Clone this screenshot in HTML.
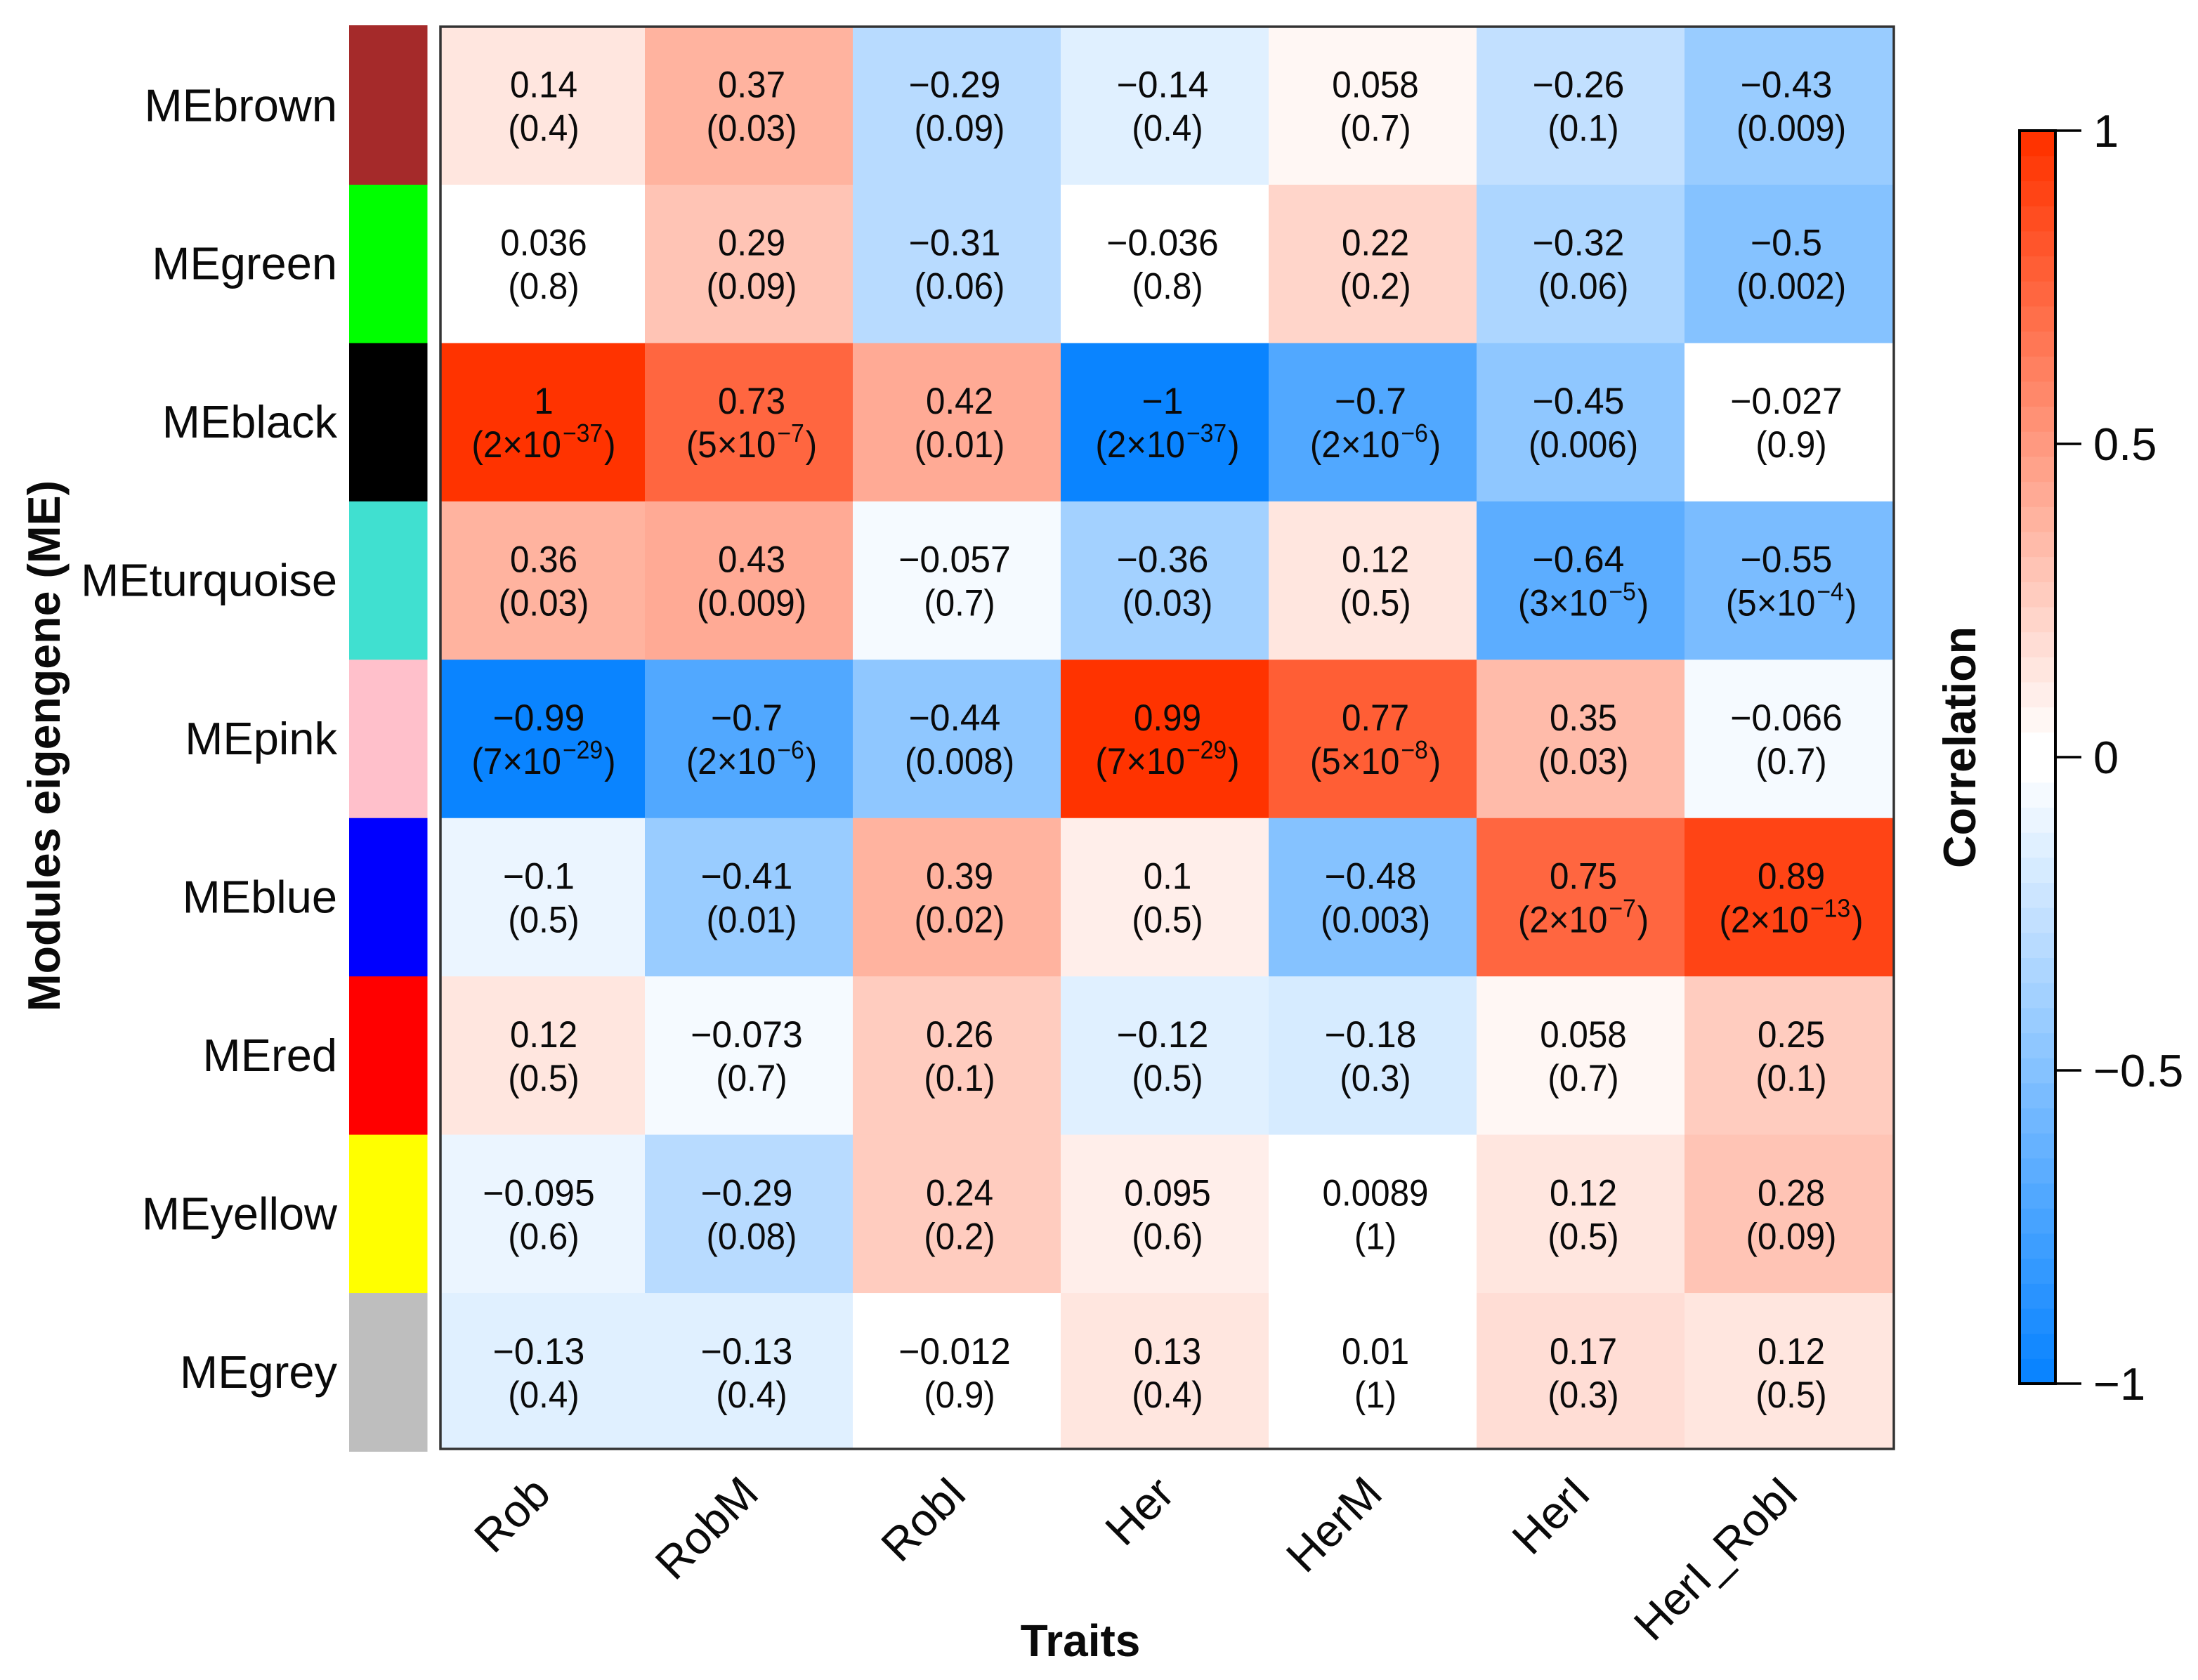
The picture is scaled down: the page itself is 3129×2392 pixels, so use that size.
<!DOCTYPE html>
<html lang="en">
<head>
<meta charset="utf-8">
<title>Module-trait correlation heatmap</title>
<style>
html,body{margin:0;padding:0;background:#fff;}
svg{display:block;}
text{font-family:"Liberation Sans",Arial,sans-serif;fill:#0a0a0a;}
</style>
</head>
<body>
<svg id="chart" xmlns="http://www.w3.org/2000/svg" width="3129" height="2392" viewBox="0 0 3129 2392">
  <rect x="0" y="0" width="3129" height="2392" fill="#fff"/>
  <defs><clipPath id="plot-clip"><rect x="627" y="38" width="2069" height="2025"/></clipPath></defs>
  <g id="module-bar"></g>
  <g id="cells" clip-path="url(#plot-clip)"></g>
  <g id="cell-text"></g>
  <rect x="627" y="38" width="2069" height="2025" fill="none" stroke="#333" stroke-width="3.5"/>
  <g id="row-labels"></g>
  <g id="col-labels"></g>
  <g id="legend"></g>
  <text transform="translate(85 1062) rotate(-90)" text-anchor="middle" font-size="64.5" font-weight="700">Modules eigengene (ME)</text>
  <text x="1538" y="2358" text-anchor="middle" font-size="64" font-weight="700">Traits</text>
  <text transform="translate(2812 1064) rotate(-90)" text-anchor="middle" font-size="64.5" font-weight="700">Correlation</text>
</svg>
<script>
const modules = ["MEbrown","MEgreen","MEblack","MEturquoise","MEpink","MEblue","MEred","MEyellow","MEgrey"];
const moduleColors = ["#A52A2A","#00FF00","#000000","#40E0D0","#FFC0CB","#0000FF","#FF0000","#FFFF00","#BEBEBE"];
const traits = ["Rob","RobM","RobI","Her","HerM","HerI","HerI_RobI"];
const correlations = [
  [0.14,0.37,-0.29,-0.14,0.058,-0.26,-0.43],
  [0.036,0.29,-0.31,-0.036,0.22,-0.32,-0.5],
  [1,0.73,0.42,-1,-0.7,-0.45,-0.027],
  [0.36,0.43,-0.057,-0.36,0.12,-0.64,-0.55],
  [-0.99,-0.7,-0.44,0.99,0.77,0.35,-0.066],
  [-0.1,-0.41,0.39,0.1,-0.48,0.75,0.89],
  [0.12,-0.073,0.26,-0.12,-0.18,0.058,0.25],
  [-0.095,-0.29,0.24,0.095,0.0089,0.12,0.28],
  [-0.13,-0.13,-0.012,0.13,0.01,0.17,0.12]
];
const pValues = [
  ["0.4","0.03","0.09","0.4","0.7","0.1","0.009"],
  ["0.8","0.09","0.06","0.8","0.2","0.06","0.002"],
  ["2×10|−37","5×10|−7","0.01","2×10|−37","2×10|−6","0.006","0.9"],
  ["0.03","0.009","0.7","0.03","0.5","3×10|−5","5×10|−4"],
  ["7×10|−29","2×10|−6","0.008","7×10|−29","5×10|−8","0.03","0.7"],
  ["0.5","0.01","0.02","0.5","0.003","2×10|−7","2×10|−13"],
  ["0.5","0.7","0.1","0.5","0.3","0.7","0.1"],
  ["0.6","0.08","0.2","0.6","1","0.5","0.09"],
  ["0.4","0.4","0.9","0.4","1","0.3","0.5"]
];
const legendTicks = [1,0.5,0,-0.5,-1];
const legendTickLabels = ["1","0.5","0","−0.5","−1"];

const NS = "http://www.w3.org/2000/svg";
const BINS = 50;
const xScale = i => 622 + 296 * i;
const yScale = i => 37.6 + 225.43 * i;
const legendY = v => 1078 - 892 * v;
const labelX = i => 626 + 296 * (i + 0.5);

function colorFor(v){
  const half = BINS / 2;
  const bin = Math.min(half - 1, Math.floor(Math.abs(v) * half + 1e-9));
  const t = bin / (half - 1);
  const hot = [255,51,0], cold = [10,132,255];
  const end = v >= 0 ? hot : cold;
  const c = end.map(e => Math.round(255 + (e - 255) * t));
  return "rgb(" + c.join(",") + ")";
}
function make(tag, attrs, parent){
  const el = document.createElementNS(NS, tag);
  for (const k in attrs) el.setAttribute(k, attrs[k]);
  parent.appendChild(el);
  return el;
}
const gBar = document.getElementById("module-bar");
const gCells = document.getElementById("cells");
const gText = document.getElementById("cell-text");
const gRows = document.getElementById("row-labels");
const gCols = document.getElementById("col-labels");
const gLegend = document.getElementById("legend");

modules.forEach((m, r) => {
  const barTop = r === 0 ? yScale(0) - 1.6 : yScale(r);
  const sw = make("rect", {x:497, y:barTop, width:111.5, height:yScale(r+1)-barTop+0.5, fill:moduleColors[r]}, gBar);
  
  
  const lab = make("text", {x:480, y:yScale(r+0.5)+22, "text-anchor":"end", "font-size":65}, gRows);
  
  
  lab.textContent = m;
  traits.forEach((t, c) => {
    const v = correlations[r][c];
    const cell = make("rect", {x:xScale(c), y:yScale(r), width:296.5, height:226, fill:colorFor(v)}, gCells);
    
    
    const cx = labelX(c), cy = yScale(r + 0.5);
    const shift = v < 0 ? -7 : 0;
    const sx = v < 0 ? 0.985 : 0.94;
    const top = make("text", {transform:"translate(" + (cx + shift) + " " + (cy - 12) + ") scale(" + sx + " 1)", "text-anchor":"middle", "font-size":52.5}, gText);
    
    
    top.textContent = (v < 0 ? "−" : "") + String(Math.abs(v));
    const bot = make("text", {transform:"translate(" + cx + " " + (cy + 50) + ") scale(.94 1)", "text-anchor":"middle", "font-size":52.5}, gText);
    
    
    const parts = pValues[r][c].split("|");
    if (parts.length === 1) {
      bot.textContent = "(" + parts[0] + ")";
    } else {
      make("tspan", {}, bot).textContent = "(" + parts[0];
      make("tspan", {dy:-22, dx:2, "font-size":36}, bot).textContent = parts[1];
      make("tspan", {dy:22, dx:2}, bot).textContent = ")";
    }
  });
});

traits.forEach((t, c) => {
  const ax = labelX(c) + 13, ay = 2130;
  const lab = make("text", {transform:"translate(" + ax + " " + ay + ") rotate(-45)", "text-anchor":"end", "font-size":65}, gCols);
  
  
  lab.textContent = t;
});

for (let i = 0; i < BINS; i++) {
  const lo = -1 + 2 * i / BINS, hi = -1 + 2 * (i + 1) / BINS;
  const s = make("rect", {x:2875, y:legendY(hi), width:51, height:legendY(lo)-legendY(hi)+0.6, fill:colorFor((lo+hi)/2)}, gLegend);
  
  
}
const lf = make("rect", {x:2875, y:legendY(1), width:51, height:legendY(-1)-legendY(1), fill:"none", stroke:"#000", "stroke-width":4}, gLegend);


legendTicks.forEach((v, i) => {
  const y = legendY(v);
  const tk = make("line", {x1:2926, x2:2963, y1:y, y2:y, stroke:"#000", "stroke-width":3.5}, gLegend);
  
  
  const tl = make("text", {x:2980, y:y+23, "font-size":65}, gLegend);
  
  
  tl.textContent = legendTickLabels[i];
});
</script>
</body>
</html>
